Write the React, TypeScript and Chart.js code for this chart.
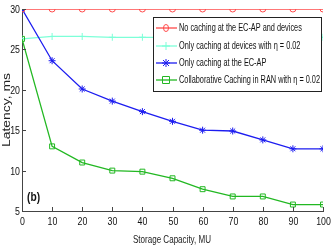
import React, { useEffect, useRef } from "react";
import { Chart, registerables } from "chart.js";

Chart.register(...registerables);

const capacity = [0, 10, 20, 30, 40, 50, 60, 70, 80, 90, 100];
const latencyTicks = [5, 10, 15, 20, 25, 30];
const noCaching = [30, 30, 30, 30, 30, 30, 30, 30, 30, 30, 30];
const devicesOnly = [26.3, 26.6, 26.6, 26.5, 26.5, 26.5, 26.5, 26.5, 26.5, 26.5, 26.5];
const ecapOnly = [30, 23.6, 20.1, 18.6, 17.3, 16.1, 15.0, 14.9, 13.8, 12.7, 12.7];
const collaborative = [26.3, 13.0, 11.0, 10.0, 9.87, 9.05, 7.7, 6.8, 6.8, 5.8, 5.8];

const seriesNames = [
  "No caching at the EC-AP and devices",
  "Only caching at devices with \u03B7 = 0.02",
  "Only caching at the EC-AP",
  "Collaborative Caching in RAN with \u03B7 = 0.02",
];
const xTitle = "Storage Capacity, MU";
const yTitle = "Latency, ms";
const panelLabel = "(b)";

const FONT = "'Liberation Sans', Arial, sans-serif";
const NARROW = 0.8;

const colors = ["#ff4a4a", "#7dffd8", "#1c1cf0", "#22b822"];
const styles = ["circle", "cross", "star", "rect"];

function narrowText(ctx: CanvasRenderingContext2D, text: string, x: number, y: number, font: string, align: "left" | "center" | "right", sx: number) {
  ctx.save();
  ctx.font = font;
  ctx.textBaseline = "middle";
  ctx.textAlign = align;
  ctx.translate(x, y);
  ctx.scale(sx, 1);
  ctx.fillText(text, 0, 0);
  ctx.restore();
}

function marker(ctx: CanvasRenderingContext2D, style: string, color: string, x: number, y: number) {
  ctx.save();
  ctx.strokeStyle = color;
  ctx.lineWidth = 1;
  ctx.beginPath();
  if (style === "circle") {
    ctx.ellipse(x, y, 2.5, 3.5, 0, 0, Math.PI * 2);
  } else if (style === "rect") {
    ctx.rect(x - 3.5, y - 3.5, 7, 7);
  } else if (style === "cross") {
    ctx.moveTo(x - 4, y); ctx.lineTo(x + 4, y);
    ctx.moveTo(x, y - 4); ctx.lineTo(x, y + 4);
  } else {
    ctx.moveTo(x - 4, y); ctx.lineTo(x + 4, y);
    ctx.moveTo(x, y - 4); ctx.lineTo(x, y + 4);
    ctx.moveTo(x - 3, y - 3); ctx.lineTo(x + 3, y + 3);
    ctx.moveTo(x - 3, y + 3); ctx.lineTo(x + 3, y - 3);
  }
  ctx.stroke();
  ctx.restore();
}

const overlay = {
  id: "overlay",
  afterDraw(chart: any) {
    const ctx = chart.ctx as CanvasRenderingContext2D;
    const { left, bottom } = chart.chartArea;
    const xs = chart.scales.x;
    const ys = chart.scales.y;
    ctx.save();
    ctx.strokeStyle = "#444";
    ctx.lineWidth = 1;
    ctx.fillStyle = "#111";
    const tickFont = `11px ${FONT}`;
    capacity.forEach((v) => {
      const px = Math.round(xs.getPixelForValue(v)) + 0.5;
      ctx.beginPath();
      ctx.moveTo(px, bottom);
      ctx.lineTo(px, bottom - 4);
      ctx.stroke();
      narrowText(ctx, String(v), px, 222, tickFont, "center", NARROW);
    });
    latencyTicks.forEach((v) => {
      const py = Math.round(ys.getPixelForValue(v)) + 0.5;
      ctx.beginPath();
      ctx.moveTo(left, py);
      ctx.lineTo(left + 4, py);
      ctx.stroke();
      narrowText(ctx, String(v), left - 2, py, tickFont, "right", NARROW);
    });
    ctx.fillStyle = "#222";
    // x title: fit to ~78px
    ctx.font = `11px ${FONT}`;
    let w = ctx.measureText(xTitle).width;
    narrowText(ctx, xTitle, 172, 240, `11px ${FONT}`, "center", 78 / w);
    // y title: ~74px
    w = ctx.measureText(yTitle).width;
    ctx.save();
    ctx.translate(7, 110);
    ctx.rotate(-Math.PI / 2);
    narrowText(ctx, yTitle, 0, 0, `11px ${FONT}`, "center", 74 / w);
    ctx.restore();
    ctx.fillStyle = "#111";
    narrowText(ctx, panelLabel, 27, 198, `bold 12px ${FONT}`, "left", 0.85);
    // legend
    const lx = 153, ly = 17, lw = 168, lh = 74;
    ctx.fillStyle = "#fff";
    ctx.fillRect(lx, ly, lw, lh);
    ctx.strokeStyle = "#222";
    ctx.lineWidth = 1;
    ctx.strokeRect(lx + 0.5, ly + 0.5, lw, lh);
    const rows = [28, 46, 63, 80];
    const legFont = `10px ${FONT}`;
    ctx.font = legFont;
    const lsx = 141 / ctx.measureText(seriesNames[3]).width;
    seriesNames.forEach((name, i) => {
      const y = rows[i];
      ctx.strokeStyle = colors[i];
      ctx.lineWidth = 1.3;
      ctx.beginPath();
      ctx.moveTo(156, y);
      ctx.lineTo(177, y);
      ctx.stroke();
      marker(ctx, styles[i], colors[i], 166, y);
      ctx.fillStyle = "#111";
      narrowText(ctx, name, 179, y, legFont, "left", lsx);
    });
    ctx.restore();
  },
};

export default function App() {
  const ref = useRef<HTMLCanvasElement | null>(null);
  useEffect(() => {
    if (!ref.current) return;
    const datasets = [noCaching, devicesOnly, ecapOnly, collaborative].map((vals, i) => ({
      label: seriesNames[i],
      data: capacity.map((x, j) => ({ x, y: vals[j] })),
      borderColor: colors[i],
      backgroundColor: "transparent",
      pointBorderColor: colors[i],
      pointBackgroundColor: "transparent",
      pointStyle: styles[i],
      pointRadius: i === 0 ? 3 : 3.5,
      pointBorderWidth: 1,
      borderWidth: 1.3,
      tension: 0,
      order: i === 0 ? 0 : 4 - i,
    }));
    const chart = new Chart(ref.current, {
      type: "line",
      data: { datasets: datasets as any },
      options: {
        animation: false,
        responsive: false,
        maintainAspectRatio: false,
        layout: { padding: { top: 9, right: 9, left: 0, bottom: 0 } },
        plugins: { legend: { display: false }, tooltip: { enabled: false } },
        scales: {
          x: {
            type: "linear",
            min: 0,
            max: 100,
            ticks: { stepSize: 10, display: false },
            grid: { display: false, drawTicks: false },
            border: { display: true, color: "#444", width: 1 },
            afterFit: (s: any) => { s.height = 39; },
          },
          y: {
            min: 5,
            max: 30,
            ticks: { stepSize: 5, display: false },
            grid: { display: false, drawTicks: false },
            border: { display: true, color: "#444", width: 1 },
            afterFit: (s: any) => { s.width = 22; },
          },
        },
      },
      plugins: [overlay],
    });
    return () => chart.destroy();
  }, []);
  return (
    <div style={{ position: "fixed", left: 0, top: 0, width: 332, height: 250, background: "#fff" }}>
      <canvas ref={ref} width={332} height={250} style={{ width: 332, height: 250 }} />
    </div>
  );
}
